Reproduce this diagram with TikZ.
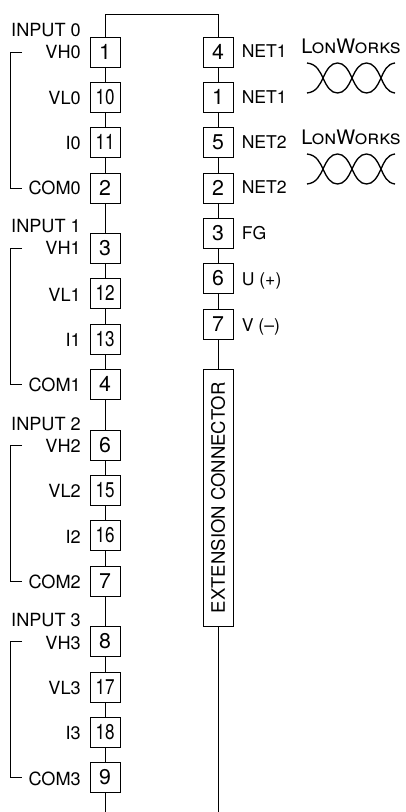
\documentclass[tikz,border=0pt]{standalone}
\usepackage{fontspec}
\setmainfont{TeX Gyre Heros}
\newfontfamily\pinfont[FakeStretch=0.8]{TeX Gyre Heros}
\usepackage{tikz}

\tikzset{
  pinbox/.style={draw,minimum width=22.5pt,minimum height=22.5pt,inner sep=0pt,font=\fontsize{16}{16}\selectfont},
  pinboxn/.style={pinbox,font=\pinfont\fontsize{16}{16}\selectfont},
  pinlabel/.style={anchor=base east,inner sep=0pt,font=\fontsize{13.6}{14}\selectfont},
  netlabel/.style={anchor=base west,inner sep=0pt,font=\fontsize{13.2}{14}\selectfont},
  lonlabel/.style={anchor=base,inner sep=0pt,font=\fontsize{15}{15}\selectfont},
  extbox/.style={draw,rotate=90,minimum width=192.75pt,minimum height=22.5pt,inner sep=0pt,font=\fontsize{13.9}{14}\selectfont},
  twist/.style={line width=1pt},
}

\begin{document}
\begin{tikzpicture}[x=0.75pt,y=0.75pt,yscale=-1,xscale=1]
    \useasboundingbox (0,0) rectangle (406,812);
    \node [pinbox] (a1) at (105,52) {1};
    \node [pinboxn] (a10) at (105,97) {10};
    \node [pinboxn] (a11) at (105,142) {11};
    \node [pinbox] (a2) at (105,188) {2};
    \node [pinbox] (a3) at (105,248) {3};
    \node [pinboxn] (a12) at (105,293) {12};
    \node [pinboxn] (a13) at (105,339) {13};
    \node [pinbox] (a4) at (105,384) {4};
    \node [pinbox] (a6) at (105,445) {6};
    \node [pinboxn] (a15) at (105,490) {15};
    \node [pinboxn] (a16) at (105,535) {16};
    \node [pinbox] (a7) at (105,581) {7};
    \node [pinbox] (a8) at (105,641) {8};
    \node [pinboxn] (a17) at (105,687) {17};
    \node [pinboxn] (a18) at (105,732) {18};
    \node [pinbox] (a9) at (105,777) {9};
    \node [pinbox] (b4) at (218,52) {4};
    \node [pinbox] (b1) at (218,97) {1};
    \node [pinbox] (b5) at (218,142) {5};
    \node [pinbox] (b2) at (218,188) {2};
    \node [pinbox] (b3) at (218,233) {3};
    \node [pinbox] (b6) at (218,278) {6};
    \node [pinbox] (b7) at (218,324) {7};
    \node [extbox] (ext) at (218,497.7) {EXTENSION CONNECTOR};
    \coordinate (topa) at (105,14);
    \coordinate (topb) at (218,14);
    \coordinate (enda) at (105,812);
    \coordinate (endb) at (218,812);
    \draw (a1) -- (topa) -- (topb) -- (b4);
    \draw (a1) -- (a10);
    \draw (a10) -- (a11);
    \draw (a11) -- (a2);
    \draw (a2) -- (a3);
    \draw (a3) -- (a12);
    \draw (a12) -- (a13);
    \draw (a13) -- (a4);
    \draw (a4) -- (a6);
    \draw (a6) -- (a15);
    \draw (a15) -- (a16);
    \draw (a16) -- (a7);
    \draw (a7) -- (a8);
    \draw (a8) -- (a17);
    \draw (a17) -- (a18);
    \draw (a18) -- (a9);
    \draw (a9) -- (enda);
    \draw (b4) -- (b1);
    \draw (b1) -- (b5);
    \draw (b5) -- (b2);
    \draw (b2) -- (b3);
    \draw (b3) -- (b6);
    \draw (b6) -- (b7);
    \draw (b7) -- (ext);
    \draw (ext) -- (endb);
    \node [pinlabel] (in0) at (81,36.5) {INPUT 0};
    \node [pinlabel] (vh0) at (81,59) {VH0};
    \node [pinlabel] (vl0) at (81,105) {VL0};
    \node [pinlabel] (i0) at (81,150) {I0};
    \node [pinlabel] (com0) at (81,195) {COM0};
    \node [pinlabel] (in1) at (81,232.5) {INPUT 1};
    \node [pinlabel] (vh1) at (81,255) {VH1};
    \node [pinlabel] (vl1) at (81,301) {VL1};
    \node [pinlabel] (i1) at (81,346.5) {I1};
    \node [pinlabel] (com1) at (81,391.5) {COM1};
    \node [pinlabel] (in2) at (81,430) {INPUT 2};
    \node [pinlabel] (vh2) at (81,452) {VH2};
    \node [pinlabel] (vl2) at (81,497) {VL2};
    \node [pinlabel] (i2) at (81,543) {I2};
    \node [pinlabel] (com2) at (81,588) {COM2};
    \node [pinlabel] (in3) at (81,626) {INPUT 3};
    \node [pinlabel] (vh3) at (81,649) {VH3};
    \node [pinlabel] (vl3) at (81,694) {VL3};
    \node [pinlabel] (i3) at (81,739) {I3};
    \node [pinlabel] (com3) at (81,785) {COM3};
    \node [netlabel] (net1a) at (241.5,58) {NET1};
    \node [netlabel] (net1b) at (241.5,104) {NET1};
    \node [netlabel] (net2a) at (241.5,149) {NET2};
    \node [netlabel] (net2b) at (241.5,194) {NET2};
    \node [netlabel] (fg) at (241.5,240) {FG};
    \node [netlabel] (u) at (241.5,286) {U (+)};
    \node [netlabel] (v) at (241.5,331) {V (--)};
    \node [lonlabel] (lon1) at (351,54) {\textsc{LonWorks}};
    \node [lonlabel] (lon2) at (351,145) {\textsc{LonWorks}};
    \draw [twist] (307,63) .. controls (317,64) and (320,72) .. (323,78) .. controls (327,87) and (331,93) .. (337.5,93) .. controls (344,93) and (348,87) .. (352,78) .. controls (356,69) and (360,63) .. (366.5,63) .. controls (373,63) and (377,69) .. (381,78) .. controls (384,85) and (387,92) .. (395,93);
    \draw [twist] (307,93) .. controls (317,92) and (320,84) .. (323,78) .. controls (327,69) and (331,63) .. (337.5,63) .. controls (344,63) and (348,69) .. (352,78) .. controls (356,87) and (360,93) .. (366.5,93) .. controls (373,93) and (377,87) .. (381,78) .. controls (384,71) and (387,64) .. (395,63);
    \draw [twist] (307,154) .. controls (317,155) and (320,163) .. (323,169) .. controls (327,178) and (331,184) .. (337.5,184) .. controls (344,184) and (348,178) .. (352,169) .. controls (356,160) and (360,154) .. (366.5,154) .. controls (373,154) and (377,160) .. (381,169) .. controls (384,176) and (387,183) .. (395,184);
    \draw [twist] (307,184) .. controls (317,183) and (320,175) .. (323,169) .. controls (327,160) and (331,154) .. (337.5,154) .. controls (344,154) and (348,160) .. (352,169) .. controls (356,178) and (360,184) .. (366.5,184) .. controls (373,184) and (377,178) .. (381,169) .. controls (384,162) and (387,155) .. (395,154);
    \draw (22,52) -- (10.5,52) -- (10.5,188) -- (22,188);
    \draw (22,248) -- (10.5,248) -- (10.5,384) -- (22,384);
    \draw (22,445) -- (10.5,445) -- (10.5,581) -- (22,581);
    \draw (22,641) -- (10.5,641) -- (10.5,777) -- (22,777);
    \end{tikzpicture}
\end{document}
